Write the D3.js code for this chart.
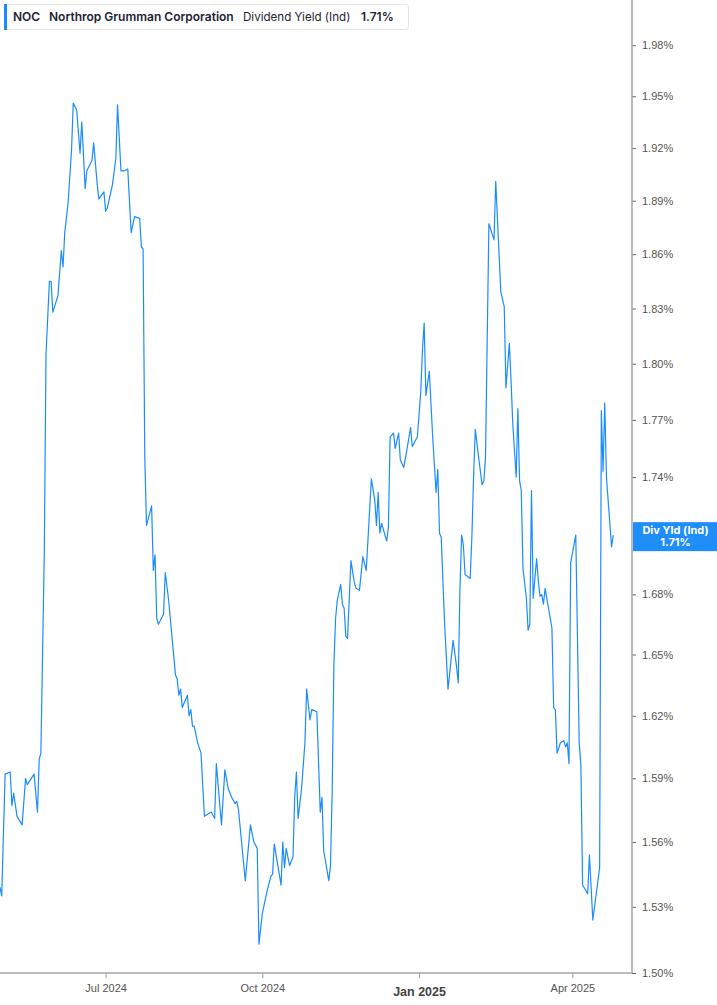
<!DOCTYPE html>
<html lang="en">
<head>
  <meta charset="UTF-8">
  <title>NOC Dividend Yield</title>
  <script src="https://cdn.jsdelivr.net/npm/d3@7/dist/d3.min.js"></script>
  <style>
    body { margin: 0; background: #fff; }
    svg { display: block; font-family: Inter, 'Noto Sans', sans-serif; }
    .ytick text { font-size: 11px; fill: #555; }
    .xtick text { font-size: 11px; fill: #555; }
  </style>
</head>
<body>
  <svg id="chart"></svg>

  <script>
    const dates = [
      "2024-04-30","2024-05-01","2024-05-03","2024-05-06","2024-05-07","2024-05-08","2024-05-10","2024-05-13","2024-05-15","2024-05-16",
      "2024-05-20","2024-05-22","2024-05-23","2024-05-24","2024-05-26","2024-05-27","2024-05-29","2024-05-30","2024-05-31","2024-06-03",
      "2024-06-05","2024-06-06","2024-06-07","2024-06-09","2024-06-11","2024-06-12","2024-06-14","2024-06-16","2024-06-17","2024-06-19",
      "2024-06-20","2024-06-23","2024-06-24","2024-06-26","2024-06-27","2024-06-30","2024-07-01","2024-07-02","2024-07-05","2024-07-07",
      "2024-07-08","2024-07-10","2024-07-12","2024-07-14","2024-07-16","2024-07-18","2024-07-21","2024-07-22","2024-07-23","2024-07-24",
      "2024-07-25","2024-07-28","2024-07-29","2024-07-30","2024-07-31","2024-08-01","2024-08-04","2024-08-05","2024-08-07","2024-08-11",
      "2024-08-12","2024-08-13","2024-08-14","2024-08-15","2024-08-18","2024-08-19","2024-08-20","2024-08-21","2024-08-22","2024-08-24",
      "2024-08-26","2024-08-28","2024-09-01","2024-09-03","2024-09-04","2024-09-07","2024-09-09","2024-09-11","2024-09-13","2024-09-15",
      "2024-09-16","2024-09-17","2024-09-21","2024-09-24","2024-09-26","2024-09-28","2024-09-29","2024-10-01","2024-10-04","2024-10-06",
      "2024-10-07","2024-10-08","2024-10-12","2024-10-13","2024-10-14","2024-10-15","2024-10-17","2024-10-19","2024-10-20","2024-10-21",
      "2024-10-22","2024-10-24","2024-10-26","2024-10-27","2024-10-29","2024-10-30","2024-11-02","2024-11-04","2024-11-05","2024-11-06",
      "2024-11-09","2024-11-10","2024-11-11","2024-11-12","2024-11-13","2024-11-14","2024-11-16","2024-11-17","2024-11-18","2024-11-19",
      "2024-11-20","2024-11-22","2024-11-24","2024-11-25","2024-11-27","2024-11-29","2024-12-01","2024-12-04","2024-12-06","2024-12-07",
      "2024-12-08","2024-12-09","2024-12-10","2024-12-13","2024-12-14","2024-12-15","2024-12-17","2024-12-18","2024-12-20","2024-12-21",
      "2024-12-23","2024-12-25","2024-12-27","2024-12-28","2024-12-31","2025-01-02","2025-01-03","2025-01-04","2025-01-05","2025-01-07",
      "2025-01-09","2025-01-11","2025-01-12","2025-01-13","2025-01-14","2025-01-16","2025-01-18","2025-01-19","2025-01-21","2025-01-23",
      "2025-01-24","2025-01-25","2025-01-26","2025-01-27","2025-01-28","2025-01-31","2025-02-01","2025-02-02","2025-02-03","2025-02-05",
      "2025-02-07","2025-02-08","2025-02-09","2025-02-10","2025-02-11","2025-02-14","2025-02-15","2025-02-16","2025-02-18","2025-02-20",
      "2025-02-21","2025-02-23","2025-02-24","2025-02-25","2025-02-27","2025-02-28","2025-03-01","2025-03-02","2025-03-03","2025-03-05",
      "2025-03-06","2025-03-07","2025-03-08","2025-03-09","2025-03-11","2025-03-12","2025-03-13","2025-03-14","2025-03-15","2025-03-16",
      "2025-03-18","2025-03-20","2025-03-21","2025-03-22","2025-03-23","2025-03-25","2025-03-27","2025-03-28","2025-03-29","2025-03-30",
      "2025-03-31","2025-04-03","2025-04-05","2025-04-06","2025-04-07","2025-04-10","2025-04-11","2025-04-13","2025-04-17","2025-04-18",
      "2025-04-19","2025-04-20","2025-04-21","2025-04-24","2025-04-25"
    ];

    // dividend yield, %
    const yieldValues = [
      1.539,1.535,1.592,1.593,1.577,1.583,1.572,1.568,1.590,1.587,
      1.592,1.574,1.599,1.602,1.701,1.805,1.845,1.845,1.828,1.837,
      1.862,1.853,1.872,1.889,1.919,1.946,1.942,1.917,1.935,1.897,
      1.907,1.913,1.923,1.900,1.891,1.895,1.884,1.886,1.899,1.914,
      1.945,1.907,1.907,1.908,1.872,1.881,1.880,1.864,1.863,1.750,
      1.715,1.725,1.692,1.700,1.668,1.665,1.670,1.691,1.677,1.640,
      1.638,1.630,1.633,1.624,1.630,1.620,1.623,1.615,1.615,1.607,
      1.602,1.572,1.574,1.571,1.597,1.568,1.594,1.585,1.581,1.578,
      1.579,1.575,1.542,1.568,1.560,1.557,1.513,1.527,1.538,1.544,
      1.545,1.559,1.540,1.560,1.548,1.557,1.549,1.553,1.581,1.593,
      1.571,1.585,1.607,1.633,1.618,1.623,1.622,1.574,1.581,1.556,
      1.542,1.549,1.584,1.645,1.668,1.677,1.685,1.675,1.673,1.659,
      1.658,1.697,1.686,1.683,1.682,1.699,1.692,1.739,1.728,1.715,
      1.732,1.711,1.716,1.707,1.714,1.761,1.763,1.755,1.763,1.749,
      1.745,1.755,1.766,1.756,1.761,1.785,1.808,1.822,1.783,1.796,
      1.761,1.732,1.744,1.711,1.709,1.665,1.633,1.641,1.657,1.644,
      1.636,1.683,1.710,1.705,1.690,1.688,1.709,1.740,1.765,1.750,
      1.736,1.738,1.750,1.813,1.877,1.868,1.901,1.880,1.839,1.831,
      1.787,1.811,1.791,1.768,1.740,1.776,1.738,1.733,1.693,1.678,
      1.662,1.665,1.733,1.678,1.698,1.687,1.679,1.680,1.675,1.683,
      1.673,1.663,1.624,1.623,1.602,1.607,1.608,1.605,1.607,1.597,
      1.696,1.710,1.607,1.596,1.540,1.536,1.554,1.524,1.548,1.775,
      1.743,1.779,1.740,1.704,1.710
    ];

    // 1.71% sits under the last-value label, so it has no tick of its own
    const yTickValues = [1.50, 1.53, 1.56, 1.59, 1.62, 1.65, 1.68, 1.74, 1.77, 1.80, 1.83, 1.86, 1.89, 1.92, 1.95, 1.98];
    const xTickDates = ["2024-07-01", "2024-10-01", "2025-01-01", "2025-04-01"];
    const xTickLabels = ["Jul 2024", "Oct 2024", "Jan 2025", "Apr 2025"];

    const ticker = "NOC";
    const company = "Northrop Grumman Corporation";
    const metric = "Dividend Yield (Ind)";
    const lastLabel = "Div Yld (Ind)";

    const width = 717;
    const height = 1005;
    const plotRight = 632;
    const plotBottom = 973;
    const lineColor = "#1a8cff";

    const parse = d3.timeParse("%Y-%m-%d");
    const data = dates.map((d, i) => ({ date: parse(d), value: yieldValues[i] }));

    const svg = d3.select("#chart")
      .attr("width", width)
      .attr("height", height);

    const x = d3.scaleTime()
      .domain([parse("2024-04-30"), parse("2025-05-06")])
      .range([0, plotRight]);

    const y = d3.scaleLog()
      .domain([1.5, 2.007])
      .range([plotBottom, 0]);

    // line
    const line = d3.line()
      .x(d => x(d.date))
      .y(d => y(d.value));

    svg.append("path")
      .datum(data)
      .attr("fill", "none")
      .attr("stroke", lineColor)
      .attr("stroke-width", 1.2)
      .attr("stroke-linejoin", "round")
      .attr("d", line);

    // right axis
    const yAxis = svg.append("g")
      .attr("transform", `translate(${plotRight},0)`)
      .call(d3.axisRight(y)
        .tickValues(yTickValues)
        .tickSize(4)
        .tickPadding(6)
        .tickFormat(d => d3.format(".2f")(d) + "%"));

    yAxis.select(".domain").remove();
    yAxis.selectAll(".tick").attr("class", "tick ytick");
    yAxis.selectAll(".tick line").attr("stroke", "#666");

    svg.append("line")
      .attr("x1", plotRight).attr("x2", plotRight)
      .attr("y1", 0).attr("y2", plotBottom)
      .attr("stroke", "#a6a6a6")
      .attr("stroke-width", 1.5);

    // bottom axis
    const xAxis = svg.append("g")
      .attr("transform", `translate(0,${plotBottom})`)
      .call(d3.axisBottom(x)
        .tickValues(xTickDates.map(parse))
        .tickSize(5)
        .tickPadding(6)
        .tickFormat((d, i) => xTickLabels[i]));

    xAxis.select(".domain").remove();
    xAxis.selectAll(".tick").attr("class", "tick xtick");
    xAxis.selectAll(".tick line").attr("stroke", "#999");
    xAxis.selectAll(".tick text")
      .filter((d, i) => xTickLabels[i] === "Jan 2025")
      .style("font-weight", "bold")
      .style("font-size", "12.5px")
      .style("fill", "#444")
      .attr("dy", "0.95em");

    svg.append("line")
      .attr("x1", 0).attr("x2", plotRight)
      .attr("y1", plotBottom).attr("y2", plotBottom)
      .attr("stroke", "#a6a6a6")
      .attr("stroke-width", 1.5);

    // last value label on the axis
    const last = data[data.length - 1];
    const labelY = y(last.value);
    const label = svg.append("g");
    label.append("rect")
      .attr("x", plotRight + 1)
      .attr("y", labelY - 13)
      .attr("width", width - plotRight - 1)
      .attr("height", 29)
      .attr("fill", "#1f8efa");
    label.append("text")
      .attr("x", (plotRight + width) / 2 + 1)
      .attr("y", labelY - 1)
      .attr("text-anchor", "middle")
      .attr("fill", "#fff")
      .style("font-size", "11px")
      .style("font-weight", "bold")
      .text(lastLabel);
    label.append("text")
      .attr("x", (plotRight + width) / 2 + 1)
      .attr("y", labelY + 11)
      .attr("text-anchor", "middle")
      .attr("fill", "#fff")
      .style("font-size", "11px")
      .style("font-weight", "bold")
      .text(d3.format(".2f")(last.value) + "%");

    // legend box
    const legend = svg.append("g");
    legend.append("rect")
      .attr("x", 4.5).attr("y", 4.5)
      .attr("width", 404).attr("height", 25)
      .attr("rx", 3)
      .attr("fill", "#fff")
      .attr("stroke", "#e4e4e4");
    legend.append("rect")
      .attr("x", 4).attr("y", 4)
      .attr("width", 3).attr("height", 26)
      .attr("fill", lineColor);

    const legendText = legend.append("text")
      .attr("y", 21)
      .style("font-size", "12px")
      .attr("fill", "#1d2433");
    legendText.append("tspan").attr("x", 13).style("font-weight", 600).text(ticker);
    legendText.append("tspan").attr("x", 49).style("font-weight", 600).text(company);
    legendText.append("tspan").attr("x", 243).style("font-weight", 400).style("font-size", "11.6px").text(metric);
    legendText.append("tspan").attr("x", 361).style("font-weight", 600).text(d3.format(".2f")(last.value) + "%");
  </script>
</body>
</html>
